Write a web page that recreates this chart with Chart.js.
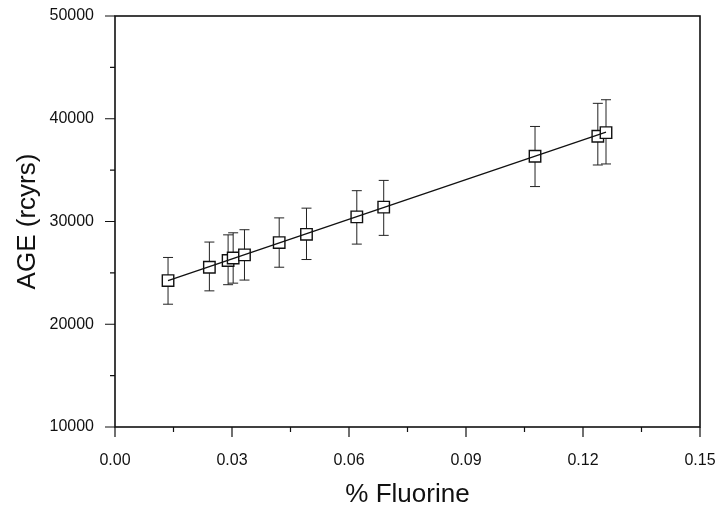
<!DOCTYPE html>
<html>
<head>
<meta charset="utf-8">
<script src="https://cdn.jsdelivr.net/npm/chart.js@4.4.1/dist/chart.umd.min.js"></script>
<style>
  html, body { margin: 0; padding: 0; background: #fff; }
  #wrap { width: 721px; height: 508px; }
</style>
</head>
<body>
<div id="wrap"><canvas id="fluorineChart"></canvas></div>
<script>
// values
const fluorine = [0.0136, 0.0242, 0.0290, 0.0303, 0.0332, 0.0421, 0.0491, 0.0620, 0.0689, 0.1077, 0.1238, 0.1259];
const age      = [24250, 25550, 26200, 26450, 26750, 27950, 28750, 30450, 31400, 36350, 38300, 38650];
const ageLow   = [21950, 23250, 23850, 24000, 24300, 25550, 26300, 27800, 28650, 33400, 35500, 35600];
const ageHigh  = [26500, 28000, 28700, 28900, 29200, 30350, 31300, 33000, 34000, 39250, 41500, 41850];

// regression line ends
const fitFluorine = [0.0136, 0.1259];
const fitAge = [24250, 38700];

const xTicks = [0, 0.03, 0.06, 0.09, 0.12, 0.15];
const xMinorTicks = [0.015, 0.045, 0.075, 0.105, 0.135];
const yTicks = [10000, 20000, 30000, 40000, 50000];
const yMinorTicks = [15000, 25000, 35000, 45000];

const ink = "#111";

const plotDecor = {
  id: "plotDecor",
  beforeDatasetsDraw(chart) {
    const { ctx, scales: { x, y } } = chart;
    ctx.save();
    ctx.strokeStyle = "#222";
    ctx.lineWidth = 1;
    for (let i = 0; i < fluorine.length; i++) {
      const px = x.getPixelForValue(fluorine[i]);
      const lo = y.getPixelForValue(ageLow[i]);
      const hi = y.getPixelForValue(ageHigh[i]);
      ctx.beginPath();
      ctx.moveTo(px, lo); ctx.lineTo(px, hi);
      ctx.moveTo(px - 5, lo); ctx.lineTo(px + 5, lo);
      ctx.moveTo(px - 5, hi); ctx.lineTo(px + 5, hi);
      ctx.stroke();
    }
    ctx.restore();
  },
  afterDraw(chart) {
    const { ctx, chartArea: a, scales: { x, y } } = chart;
    ctx.save();
    ctx.strokeStyle = ink;
    ctx.lineWidth = 1.6;
    ctx.strokeRect(a.left, a.top, a.right - a.left, a.bottom - a.top);
    ctx.lineWidth = 1.2;
    ctx.beginPath();
    xTicks.forEach(v => { const p = x.getPixelForValue(v); ctx.moveTo(p, a.bottom); ctx.lineTo(p, a.bottom + 10); });
    xMinorTicks.forEach(v => { const p = x.getPixelForValue(v); ctx.moveTo(p, a.bottom); ctx.lineTo(p, a.bottom + 5); });
    yTicks.forEach(v => { const p = y.getPixelForValue(v); ctx.moveTo(a.left, p); ctx.lineTo(a.left - 10, p); });
    yMinorTicks.forEach(v => { const p = y.getPixelForValue(v); ctx.moveTo(a.left, p); ctx.lineTo(a.left - 5, p); });
    ctx.stroke();
    ctx.restore();
  }
};

const ctx = document.getElementById("fluorineChart").getContext("2d");

new Chart(ctx, {
  type: "scatter",
  data: {
    datasets: [
      {
        type: "line",
        label: "fit",
        data: fitFluorine.map((v, i) => ({ x: v, y: fitAge[i] })),
        borderColor: ink,
        borderWidth: 1.3,
        pointRadius: 0,
        fill: false,
      },
      {
        label: "samples",
        data: fluorine.map((v, i) => ({ x: v, y: age[i] })),
        pointStyle: "rect",
        pointRadius: 8.1,
        pointHoverRadius: 8.1,
        backgroundColor: "#fff",
        borderColor: ink,
        borderWidth: 1.4,
      },
    ],
  },
  options: {
    responsive: true,
    maintainAspectRatio: false,
    animation: false,
    layout: { padding: { left: 0, right: 21, top: 16, bottom: 0 } },
    plugins: {
      legend: { display: false },
      tooltip: { enabled: false },
    },
    scales: {
      x: {
        type: "linear",
        min: 0,
        max: 0.15,
        afterBuildTicks: s => { s.ticks = xTicks.map(v => ({ value: v })); },
        afterFit: s => { s.height = 81; s.paddingLeft = 0; s.paddingRight = 0; },
        grid: { display: false, drawTicks: false },
        border: { display: false },
        ticks: {
          color: ink,
          padding: 24,
          maxRotation: 0,
          font: { family: "Liberation Sans", size: 16 },
          callback: v => Number(v).toFixed(2),
        },
        title: {
          display: true,
          text: "% Fluorine",
          color: ink,
          font: { family: "Liberation Sans", size: 26, lineHeight: 1 },
          padding: { top: 0, bottom: 0 },
        },
      },
      y: {
        type: "linear",
        min: 10000,
        max: 50000,
        afterBuildTicks: s => { s.ticks = yTicks.map(v => ({ value: v })); },
        afterFit: s => { s.width = 115; s.paddingTop = 0; s.paddingBottom = 0; },
        grid: { display: false, drawTicks: false },
        border: { display: false },
        ticks: {
          color: ink,
          padding: 21,
          font: { family: "Liberation Sans", size: 16 },
          callback: v => String(v),
        },
        title: {
          display: true,
          text: "AGE (rcyrs)",
          color: ink,
          font: { family: "Liberation Sans", size: 26, lineHeight: 1 },
          padding: { top: 15, bottom: 0 },
        },
      },
    },
  },
  plugins: [plotDecor],
});
</script>
</body>
</html>
